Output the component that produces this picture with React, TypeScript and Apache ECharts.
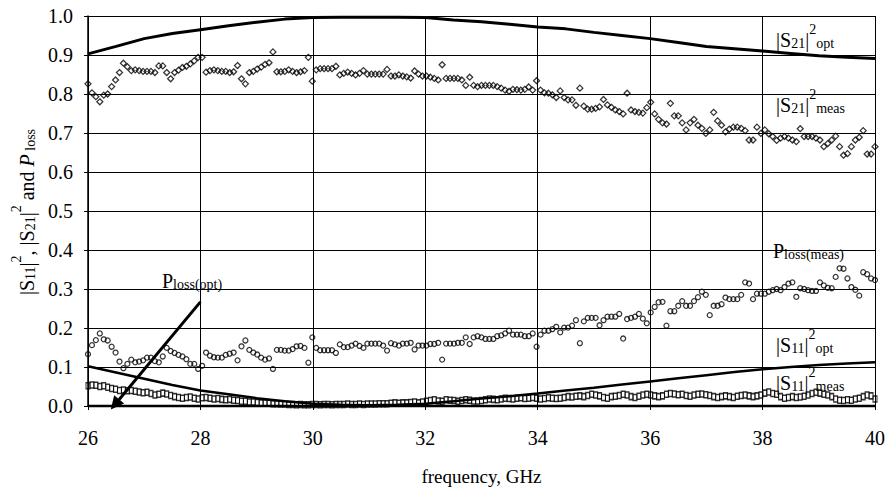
import React, { useEffect, useRef } from "react";
import * as echarts from "echarts";

// frequency sweep of the measurement (GHz)
const FREQ_START = 26;
const FREQ_STEP = 0.07;

// |S21|^2 measured (diamonds)
const s21Meas = [
  0.826, 0.803, 0.793, 0.780, 0.797, 0.800, 0.819, 0.836, 0.855, 0.879,
  0.870, 0.860, 0.862, 0.860, 0.858, 0.858, 0.858, 0.855, 0.872, 0.872,
  0.855, 0.839, 0.855, 0.861, 0.868, 0.871, 0.877, 0.885, 0.894, 0.894,
  0.856, 0.860, 0.862, 0.860, 0.858, 0.858, 0.855, 0.857, 0.873, 0.839,
  0.826, 0.855, 0.858, 0.864, 0.869, 0.876, 0.880, 0.908, 0.857, 0.857,
  0.858, 0.862, 0.858, 0.855,
  0.857, 0.860, 0.894, 0.833, 0.862, 0.865, 0.865, 0.865, 0.865, 0.871,
  0.849, 0.853, 0.856, 0.853, 0.849, 0.853, 0.860, 0.851, 0.851, 0.851,
  0.851, 0.851, 0.863, 0.846, 0.846, 0.849, 0.846, 0.844, 0.841, 0.859,
  0.851, 0.846, 0.846, 0.843, 0.840, 0.836, 0.875, 0.840, 0.840, 0.840,
  0.840, 0.836, 0.822, 0.843, 0.822, 0.819, 0.822, 0.822, 0.822, 0.822,
  0.819, 0.815, 0.810, 0.807, 0.812, 0.811, 0.810, 0.812, 0.818, 0.810,
  0.834, 0.810, 0.803, 0.802, 0.798, 0.791, 0.808, 0.791, 0.785, 0.785,
  0.771, 0.815, 0.769, 0.761, 0.761, 0.763,
  0.767, 0.786, 0.772, 0.766, 0.759, 0.755, 0.749, 0.802, 0.759, 0.755,
  0.753, 0.751, 0.765, 0.779, 0.749, 0.735, 0.726, 0.723, 0.776, 0.744,
  0.744, 0.726, 0.708, 0.726, 0.735, 0.720, 0.712, 0.699, 0.708, 0.753,
  0.731, 0.720, 0.703, 0.710, 0.715, 0.715, 0.712, 0.706, 0.682, 0.682,
  0.715, 0.699, 0.708, 0.698, 0.691, 0.681, 0.687, 0.691, 0.687, 0.682,
  0.678, 0.711, 0.691, 0.691, 0.691, 0.687, 0.682, 0.665, 0.673, 0.682,
  0.692, 0.665, 0.643, 0.647, 0.665, 0.682, 0.689, 0.706, 0.646, 0.646,
  0.665,
];

// P_loss measured (circles)
const plossMeas = [
  0.133, 0.156, 0.169, 0.186, 0.171, 0.168, 0.152, 0.137, 0.114, 0.097,
  0.108, 0.119, 0.112, 0.114, 0.117, 0.124, 0.124, 0.115, 0.112, 0.127,
  0.149, 0.141, 0.136, 0.131, 0.127, 0.120, 0.108, 0.108, 0.095, 0.103,
  0.137, 0.129, 0.125, 0.124, 0.124, 0.131, 0.134, 0.137, 0.117, 0.153,
  0.168, 0.144, 0.137, 0.132, 0.124, 0.119, 0.122, 0.095, 0.144, 0.144,
  0.142, 0.142, 0.146, 0.153,
  0.154, 0.149, 0.111, 0.176, 0.149, 0.143, 0.143, 0.143, 0.143, 0.136,
  0.158, 0.151, 0.151, 0.155, 0.160, 0.154, 0.149, 0.160, 0.160, 0.160,
  0.160, 0.155, 0.142, 0.161, 0.158, 0.155, 0.160, 0.160, 0.162, 0.145,
  0.155, 0.155, 0.155, 0.159, 0.159, 0.162, 0.119, 0.160, 0.160, 0.160,
  0.162, 0.162, 0.176, 0.159, 0.176, 0.179, 0.176, 0.172, 0.172, 0.172,
  0.179, 0.181, 0.186, 0.193, 0.183, 0.183, 0.183, 0.179, 0.179, 0.186,
  0.152, 0.183, 0.193, 0.193, 0.197, 0.203, 0.189, 0.201, 0.201, 0.206,
  0.220, 0.161, 0.217, 0.226, 0.226, 0.226,
  0.207, 0.220, 0.229, 0.229, 0.229, 0.236, 0.173, 0.223, 0.226, 0.229,
  0.236, 0.224, 0.212, 0.240, 0.254, 0.266, 0.267, 0.206, 0.243, 0.243,
  0.257, 0.269, 0.257, 0.257, 0.269, 0.279, 0.293, 0.285, 0.233, 0.257,
  0.257, 0.261, 0.278, 0.274, 0.274, 0.274, 0.285, 0.317, 0.314, 0.274,
  0.288, 0.288, 0.288, 0.293, 0.297, 0.300, 0.297, 0.305, 0.314, 0.317,
  0.280, 0.302, 0.300, 0.297, 0.295, 0.295, 0.317, 0.309, 0.303, 0.302,
  0.331, 0.353, 0.352, 0.327, 0.305, 0.298, 0.283, 0.343, 0.338, 0.327,
  0.323,
];

// |S11|^2 measured (squares)
const s11Meas = [
  0.052, 0.054, 0.053, 0.050, 0.052, 0.048, 0.045, 0.043,
  0.040, 0.041, 0.039, 0.040, 0.038, 0.036, 0.034,
  0.035, 0.032, 0.028, 0.030, 0.033, 0.031, 0.027,
  0.024, 0.022, 0.020, 0.022, 0.023, 0.020, 0.018,
  0.021, 0.022, 0.020, 0.018, 0.019, 0.017, 0.016,
  0.017, 0.015, 0.014, 0.012, 0.012, 0.010, 0.010,
  0.009, 0.008, 0.008, 0.007, 0.006, 0.006, 0.005,
  0.005, 0.004, 0.004, 0.003, 0.004, 0.003, 0.003,
  0.004, 0.004, 0.003, 0.004, 0.004, 0.003, 0.004,
  0.004, 0.004, 0.005, 0.004, 0.004, 0.005, 0.004,
  0.005, 0.005, 0.005, 0.006, 0.006, 0.006, 0.007,
  0.008, 0.007, 0.008, 0.008, 0.009, 0.010, 0.008,
  0.010, 0.012, 0.014, 0.016, 0.013, 0.012, 0.016,
  0.015, 0.014, 0.012, 0.014, 0.016, 0.015, 0.013,
  0.013, 0.014, 0.016, 0.018, 0.017, 0.016, 0.018,
  0.020, 0.019, 0.018, 0.020, 0.021, 0.019, 0.020,
  0.022, 0.020, 0.018, 0.019, 0.021, 0.020, 0.019,
  0.020, 0.022, 0.024, 0.023, 0.025, 0.026, 0.024,
  0.027, 0.030, 0.028, 0.026, 0.022, 0.020, 0.024,
  0.025, 0.027, 0.030, 0.028, 0.024, 0.022, 0.025,
  0.028, 0.030, 0.028, 0.026, 0.024, 0.026, 0.030,
  0.032, 0.031, 0.029, 0.030, 0.027, 0.025, 0.028,
  0.030, 0.031, 0.029, 0.027, 0.024, 0.022, 0.024,
  0.026, 0.024, 0.022, 0.025, 0.027, 0.028, 0.026,
  0.024, 0.026, 0.028, 0.033, 0.036, 0.032, 0.030,
  0.024, 0.020, 0.022, 0.024, 0.022, 0.023, 0.025,
  0.028, 0.032, 0.035, 0.033, 0.030, 0.028, 0.024,
  0.018, 0.015, 0.014, 0.016, 0.015, 0.018, 0.020,
  0.024, 0.028, 0.026, 0.018,
];

// optimum (simulated) curves
const optFreq = [
  26, 26.5, 27, 27.5, 28, 28.5, 29, 29.5, 30, 30.5, 31, 31.5, 32, 32.5, 33,
  33.5, 34, 34.5, 35, 35.5, 36, 36.5, 37, 37.5, 38, 38.5, 39, 39.5, 40,
];
const s21Opt = [
  0.903, 0.922, 0.942, 0.955, 0.965, 0.975, 0.984, 0.992, 0.996, 0.997, 0.997,
  0.997, 0.996, 0.990, 0.985, 0.979, 0.972, 0.967, 0.958, 0.950, 0.942, 0.932,
  0.922, 0.916, 0.910, 0.904, 0.898, 0.894, 0.891,
];
const s11Opt = [
  0.102, 0.086, 0.070, 0.054, 0.040, 0.030, 0.020, 0.012, 0.006, 0.003, 0.002,
  0.003, 0.006, 0.012, 0.019, 0.025, 0.032, 0.040, 0.047, 0.055, 0.063, 0.071,
  0.079, 0.087, 0.094, 0.100, 0.105, 0.109, 0.112,
];
const plossOpt = [
  0, 0, 0, 0, 0, 0, 0, 0, 0, 0, 0, 0, 0, 0, 0, 0, 0, 0, 0, 0, 0, 0, 0, 0, 0, 0,
  0, 0, 0,
];

// arrow pointing at the P_loss(opt) curve
const arrowStart = [28, 0.267];
const arrowEnd = [26.48, 0.004];

const SERIF = "'Liberation Serif', 'Times New Roman', serif";

const measPairs = (vals: number[]) =>
  vals.map((v, i) => [+(FREQ_START + i * FREQ_STEP).toFixed(3), v]);
const optPairs = (vals: number[]) => vals.map((v, i) => [optFreq[i], v]);

const rich = {
  m: { fontFamily: SERIF, fontSize: 20, fill: "#000" },
  i: { fontFamily: SERIF, fontSize: 20, fontStyle: "italic", fill: "#000" },
  s: { fontFamily: SERIF, fontSize: 14, fill: "#000", padding: [6, 0, 0, 0] },
  p: { fontFamily: SERIF, fontSize: 14, fill: "#000", padding: [0, 0, 21, 0] },
  b: { fontFamily: SERIF, fontSize: 14, fill: "#000", padding: [7, 0, 0, 0] },
};

const label = (x: number, y: number, text: string) => ({
  type: "text",
  x,
  y,
  z: 100,
  silent: true,
  style: {
    text,
    rich,
    fontFamily: SERIF,
    fontSize: 20,
    fill: "#000",
    align: "left",
    verticalAlign: "middle",
  },
});

const markerStyle = { color: "rgba(0,0,0,0)", borderColor: "#000", borderWidth: 1.25 };

export default function App() {
  const ref = useRef<HTMLDivElement>(null);
  useEffect(() => {
    if (!ref.current) return;
    const chart = echarts.init(ref.current, undefined, { renderer: "svg" });
    const axisCommon = {
      axisLine: { show: true, onZero: false, lineStyle: { color: "#000", width: 1.5 } },
      axisTick: { show: true, inside: false, length: 4, lineStyle: { color: "#000", width: 1 } },
      splitLine: { show: true, lineStyle: { color: "#000", width: 1 } },
    };
    chart.setOption({
      animation: false,
      backgroundColor: "#fff",
      grid: { left: 88, right: 11, top: 16, bottom: 86, containLabel: false },
      xAxis: {
        type: "value",
        min: 26,
        max: 40,
        interval: 2,
        name: "frequency, GHz",
        nameLocation: "middle",
        nameGap: 61,
        nameTextStyle: { fontFamily: SERIF, fontSize: 19, color: "#000" },
        axisLabel: { fontFamily: SERIF, fontSize: 20, color: "#000", margin: 22 },
        ...axisCommon,
      },
      yAxis: {
        type: "value",
        min: 0,
        max: 1,
        interval: 0.1,
        axisLabel: {
          fontFamily: SERIF,
          fontSize: 20,
          color: "#000",
          margin: 15,
          formatter: (v: number) => v.toFixed(1),
        },
        ...axisCommon,
      },
      graphic: [
        {
          type: "text",
          x: 27,
          y: 212,
          rotation: Math.PI / 2,
          silent: true,
          style: {
            text: "{m||S}{s|11}{m||}{p|2}{m|, |S}{s|21}{m||}{p|2}{m| and }{i|P}{b| loss}",
            rich,
            fontFamily: SERIF,
            fontSize: 20,
            fill: "#000",
            align: "center",
            verticalAlign: "middle",
          },
        },
        label(776, 40, "{m||S}{s|21}{m||}{p|2}{b|opt}"),
        label(776, 105, "{m||S}{s|21}{m||}{p|2}{b|meas}"),
        label(773, 251, "{m|P}{b|loss(meas)}"),
        label(776, 345, "{m||S}{s|11}{m||}{p|2}{b|opt}"),
        label(776, 383, "{m||S}{s|11}{m||}{p|2}{b|meas}"),
        label(162, 281, "{m|P}{b|loss(opt)}"),
      ],
      series: [
        {
          name: "S11 meas",
          type: "scatter",
          data: measPairs(s11Meas),
          symbol: "rect",
          symbolSize: [4, 6],
          itemStyle: markerStyle,
          z: 2,
        },
        {
          name: "Ploss meas",
          type: "scatter",
          data: measPairs(plossMeas),
          symbol: "circle",
          symbolSize: 5,
          itemStyle: markerStyle,
          z: 2,
        },
        {
          name: "S21 meas",
          type: "scatter",
          data: measPairs(s21Meas),
          symbol: "diamond",
          symbolSize: 6,
          itemStyle: markerStyle,
          z: 2,
        },
        {
          name: "S21 opt",
          type: "line",
          data: optPairs(s21Opt),
          showSymbol: false,
          symbol: "none",
          color: "#000",
          lineStyle: { color: "#000", width: 3 },
          z: 3,
        },
        {
          name: "S11 opt",
          type: "line",
          data: optPairs(s11Opt),
          showSymbol: false,
          symbol: "none",
          color: "#000",
          lineStyle: { color: "#000", width: 2.5 },
          z: 3,
        },
        {
          name: "Ploss opt",
          type: "line",
          data: optPairs(plossOpt),
          showSymbol: false,
          symbol: "none",
          clip: false,
          color: "#000",
          lineStyle: { color: "#000", width: 2.5 },
          z: 3,
          markLine: {
            silent: true,
            symbol: ["none", "triangle"],
            symbolSize: 13,
            symbolOffset: 0,
            label: { show: false },
            itemStyle: { color: "#000" },
            lineStyle: { color: "#000", width: 3, type: "solid" },
            data: [[{ coord: arrowStart }, { coord: arrowEnd }]],
          },
        },
      ],
    });
    return () => chart.dispose();
  }, []);
  return (
    <div
      ref={ref}
      style={{ position: "absolute", left: 0, top: 0, width: 888, height: 492 }}
    />
  );
}
